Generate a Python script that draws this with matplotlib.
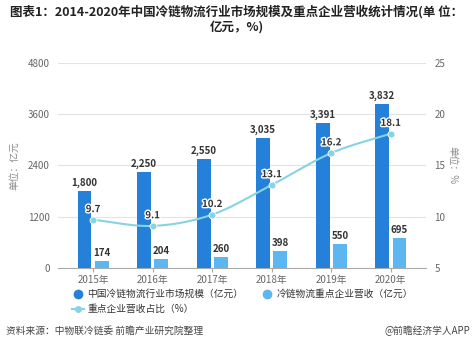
import numpy as np
import matplotlib
matplotlib.use("Agg")
import matplotlib.pyplot as plt
from matplotlib.lines import Line2D
import matplotlib.patheffects as pe

plt.rcParams['font.family'] = ['Noto Sans CJK SC', 'DejaVu Sans']

years = ["2015年", "2016年", "2017年", "2018年", "2019年", "2020年"]
market = [1800, 2250, 2550, 3035, 3391, 3832]
revenue = [174, 204, 260, 398, 550, 695]
share = [9.7, 9.1, 10.2, 13.1, 16.2, 18.1]

c_dark = "#2580d9"
c_light = "#5cb6f2"
c_line = "#86d3e3"
c_text = "#333333"
c_tick = "#666666"

fig = plt.figure(figsize=(4.74, 3.59), dpi=100)
ax = fig.add_axes([58/474, 1-268/359, (426-58)/474, (268-62.7)/359])
ax2 = ax.twinx()

x = np.arange(len(years))
w = 0.235
off = 0.145
b1 = ax.bar(x - off, market, width=w, color=c_dark, zorder=3)
b2 = ax.bar(x + off, revenue, width=w, color=c_light, zorder=3)
for xi, v in zip(x, market):
    ax.text(xi - off, v + 70, f"{v:,}", ha='center', va='bottom', fontsize=7,
            fontweight='bold', color=c_text, zorder=5)
for xi, v in zip(x, revenue):
    ax.text(xi + off, v + 70, f"{v:,}", ha='center', va='bottom', fontsize=7,
            fontweight='bold', color=c_text, zorder=5)

ax.set_ylim(0, 4800)
ax.set_yticks([0, 1200, 2400, 3600, 4800])
ax.set_xlim(-0.59, 5.59)
ax.set_xticks(x)
ax.set_xticklabels(years)
ax.grid(axis='y', color='#e3e3e3', linewidth=0.8, zorder=0)
ax.set_axisbelow(True)
for s in ['top', 'right', 'left']:
    ax.spines[s].set_visible(False)
ax.spines['bottom'].set_color('#aaaaaa')
ax.spines['bottom'].set_linewidth(0.8)
ax.tick_params(axis='y', length=0, labelsize=7, colors=c_tick, pad=6)
ax.tick_params(axis='x', length=3, color='#aaaaaa', labelsize=7, labelcolor=c_tick, pad=2)
ax.set_ylabel("单位：亿元", fontsize=7, color='#888888', labelpad=6)

# smooth line (Catmull-Rom through the data points)
xs, ys = [], []
px = np.concatenate([[x[0] - (x[1]-x[0])], x, [x[-1] + (x[-1]-x[-2])]])
sv = np.array(share, dtype=float)
py = np.concatenate([[2*sv[0]-sv[1]], sv, [2*sv[-1]-sv[-2]]])
t = np.linspace(0, 1, 30)
for i in range(1, len(px)-2):
    p0, p1, p2, p3 = py[i-1], py[i], py[i+1], py[i+2]
    q0, q1, q2, q3 = px[i-1], px[i], px[i+1], px[i+2]
    yy = 0.5*((2*p1) + (-p0+p2)*t + (2*p0-5*p1+4*p2-p3)*t**2 + (-p0+3*p1-3*p2+p3)*t**3)
    xx = 0.5*((2*q1) + (-q0+q2)*t + (2*q0-5*q1+4*q2-q3)*t**2 + (-q0+3*q1-3*q2+q3)*t**3)
    xs.extend(xx); ys.extend(yy)
ax2.plot(xs, ys, color=c_line, linewidth=1.5, zorder=4)
ax2.plot(x, share, 'o', color=c_line, markersize=5, markeredgecolor='white',
         markeredgewidth=0.6, zorder=5)
for xi, v in zip(x, share):
    ax2.text(xi, v + 0.55, f"{v}", ha='center', va='bottom', fontsize=7,
             fontweight='bold', color=c_text, zorder=6,
             path_effects=[pe.withStroke(linewidth=2, foreground='white')])
ax2.set_ylim(5, 25)
ax2.set_yticks([5, 10, 15, 20, 25])
for s in ['top', 'right', 'left', 'bottom']:
    ax2.spines[s].set_visible(False)
ax2.tick_params(axis='y', length=0, labelsize=7, colors=c_tick, pad=6)
ax2.set_ylabel("单位：%", fontsize=7, color='#888888', rotation=270, labelpad=9)

fig.text(0.5, 1-12/359, "图表1：2014-2020年中国冷链物流行业市场规模及重点企业营收统计情况(单 位：",
         ha='center', va='center', fontsize=9, fontweight='bold', color='#222222')
fig.text(0.5, 1-27/359, "亿元，%)", ha='center', va='center', fontsize=9,
         fontweight='bold', color='#222222')

h1 = Line2D([], [], marker='o', linestyle='none', color=c_dark, markersize=6)
h2 = Line2D([], [], marker='o', linestyle='none', color=c_light, markersize=6)
h3 = Line2D([], [], marker='o', linestyle='-', color=c_line, markersize=4, linewidth=1.5)
leg = fig.legend([h1, h3, h2], ["中国冷链物流行业市场规模（亿元）", "重点企业营收占比（%）",
                                "冷链物流重点企业营收（亿元）"],
                 ncol=2, loc='upper left', bbox_to_anchor=(72/474, 1-289/359),
                 frameon=False, fontsize=7, handlelength=1.2, handletextpad=0.4,
                 columnspacing=1.8, labelspacing=0.55, borderaxespad=0, borderpad=0)
for tx in leg.get_texts():
    tx.set_color(c_text)

fig.text(6/474, 1-331/359, "资料来源：中物联冷链委 前瞻产业研究院整理", ha='left', va='center',
         fontsize=7, color='#444444')
fig.text(470/474, 1-331/359, "@前瞻经济学人APP", ha='right', va='center',
         fontsize=7, color='#444444')

fig.savefig("out.png", dpi=100)
